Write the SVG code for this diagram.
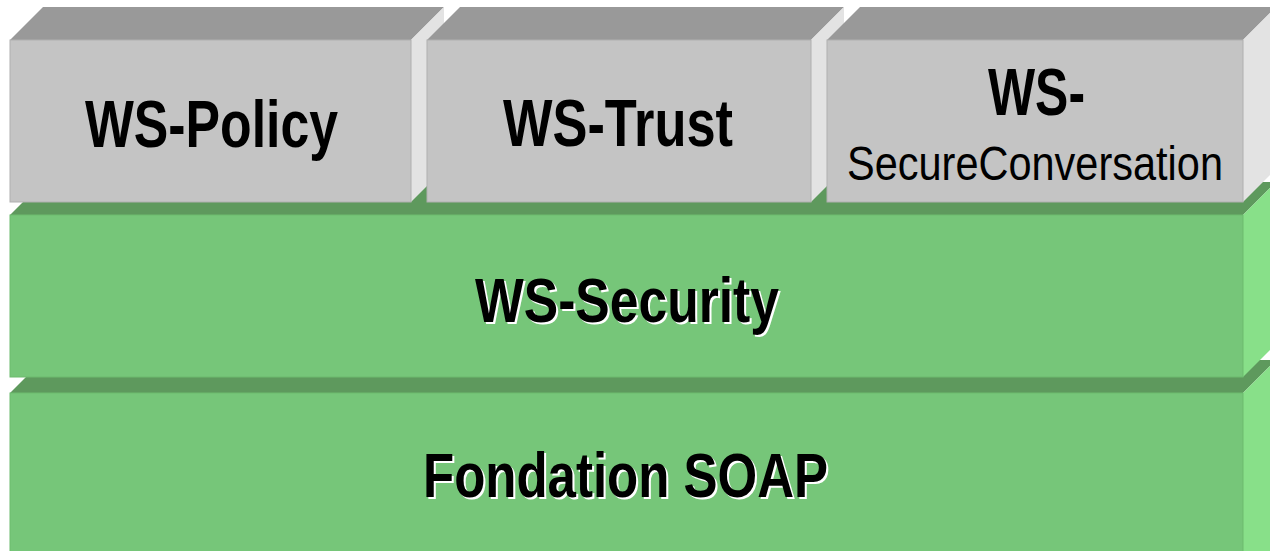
<svg xmlns="http://www.w3.org/2000/svg" width="1270" height="551" viewBox="0 0 1270 551">
<style>
.gf{fill:#c4c4c4;stroke:#b0b0b0;stroke-width:1}
.gt{fill:#999999}
.gs{fill:#e3e3e3}
.vf{fill:#76c679;stroke:#6cbb6f;stroke-width:1}
.vt{fill:#5e995d}
.vs{fill:#88e089}
.t{font-family:"Liberation Sans Narrow","Liberation Sans",Arial,sans-serif;font-weight:bold;fill:#000}
.n{font-family:"Liberation Sans Narrow","Liberation Sans",Arial,sans-serif;font-weight:normal;fill:#000}
.sh{font-family:"Liberation Sans Narrow","Liberation Sans",Arial,sans-serif;font-weight:bold;fill:#fff}
</style>
<rect width="1270" height="551" fill="#fff"/>
<g id="soap">
<polygon class="vt" points="10,393 43,360 1276,360 1243,393"/>
<polygon class="vs" points="1243,393 1276,360 1276,551 1243,551"/>
<rect class="vf" x="10" y="393" width="1233" height="160"/>
<text class="sh" x="425" y="499" font-size="63" textLength="405" lengthAdjust="spacingAndGlyphs">Fondation SOAP</text>
<text class="t" x="423" y="497" font-size="63" textLength="405" lengthAdjust="spacingAndGlyphs">Fondation SOAP</text>
</g>
<g id="wssecurity">
<polygon class="vt" points="10,215 43,182 1276,182 1243,215"/>
<polygon class="vs" points="1243,215 1276,182 1276,344 1243,377"/>
<rect class="vf" x="10" y="215" width="1233" height="162"/>
<text class="sh" x="477" y="324" font-size="63" textLength="304" lengthAdjust="spacingAndGlyphs">WS-Security</text>
<text class="t" x="475" y="322" font-size="63" textLength="304" lengthAdjust="spacingAndGlyphs">WS-Security</text>
</g>
<g id="wspolicy">
<polygon class="gt" points="10,40 43,7 444,7 411,40"/>
<polygon class="gs" points="411,40 444,7 444,169 411,202"/>
<rect class="gf" x="10" y="40" width="401" height="162"/>
<text class="t" x="85" y="147" font-size="66" textLength="253" lengthAdjust="spacingAndGlyphs">WS-Policy</text>
</g>
<g id="wstrust">
<polygon class="gt" points="427,40 460,7 844,7 811,40"/>
<polygon class="gs" points="811,40 844,7 844,169 811,202"/>
<rect class="gf" x="427" y="40" width="384" height="162"/>
<text class="t" x="503" y="146" font-size="66" textLength="230" lengthAdjust="spacingAndGlyphs">WS-Trust</text>
</g>
<g id="wssecureconversation">
<polygon class="gt" points="827,40 860,7 1276,7 1243,40"/>
<polygon class="gs" points="1243,40 1276,7 1276,169 1243,202"/>
<rect class="gf" x="827" y="40" width="416" height="162"/>
<text class="t" x="988" y="115" font-size="66" textLength="97" lengthAdjust="spacingAndGlyphs">WS-</text>
<text class="n" x="847" y="180" font-size="49" textLength="376" lengthAdjust="spacingAndGlyphs">SecureConversation</text>
</g>
<g id="connectors"/>
</svg>
